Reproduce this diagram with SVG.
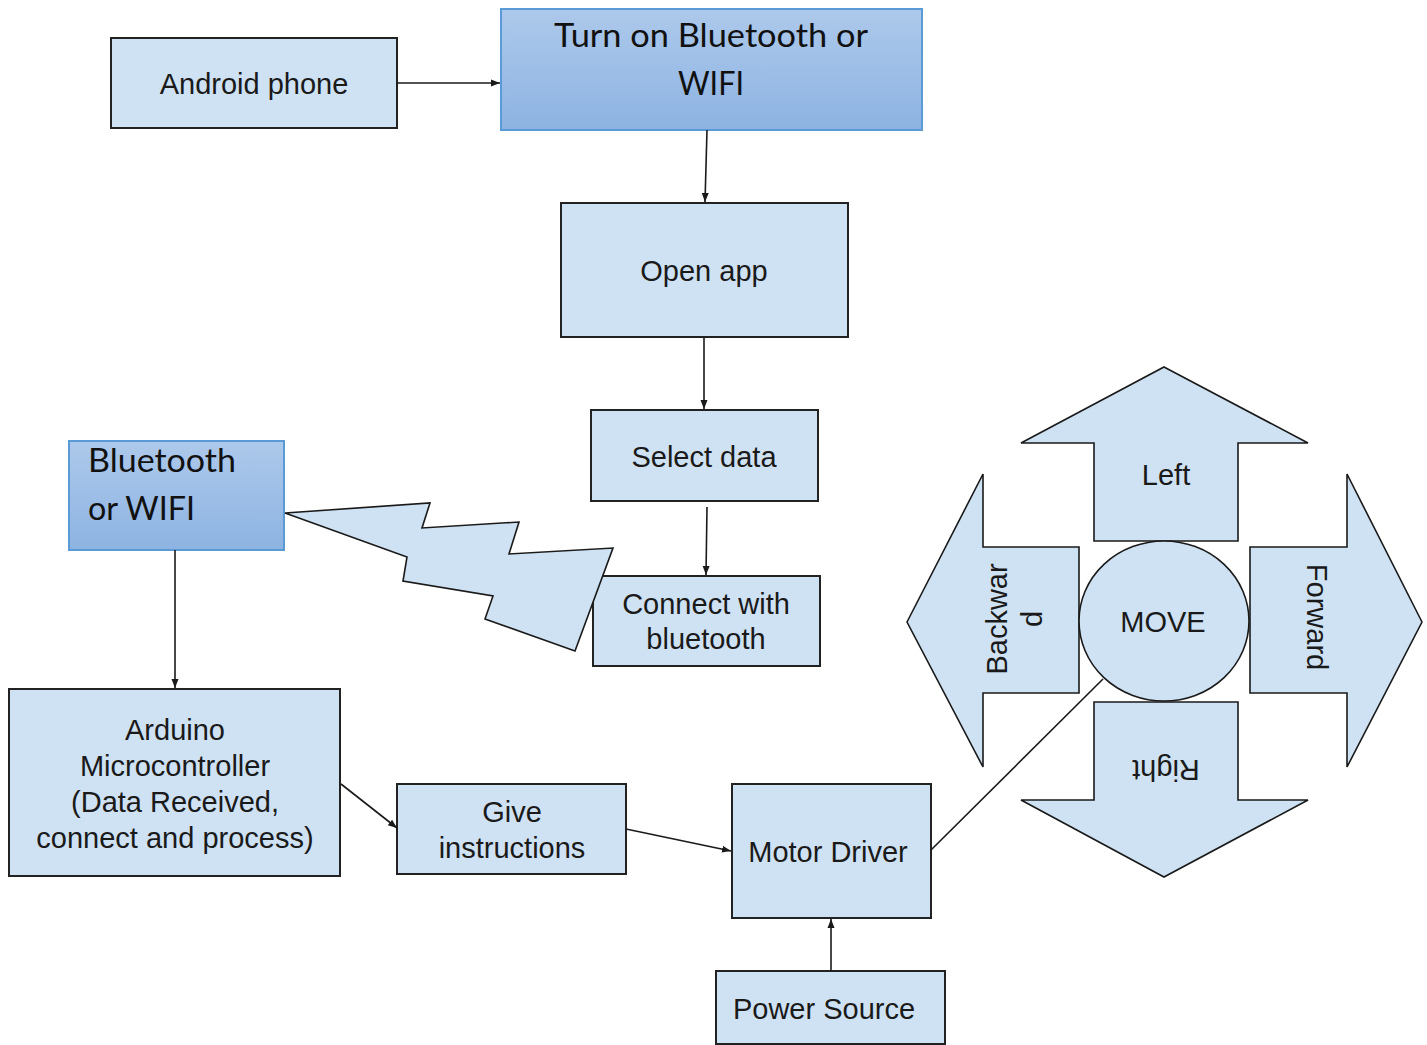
<svg xmlns="http://www.w3.org/2000/svg" width="1427" height="1045" viewBox="0 0 1427 1045">
<defs>
<linearGradient id="blueGrad" x1="0" y1="0" x2="0" y2="1">
<stop offset="0" stop-color="#adc9eb"/>
<stop offset="1" stop-color="#8db3e2"/>
</linearGradient>
<marker id="ah" markerUnits="userSpaceOnUse" markerWidth="10" markerHeight="8" refX="9" refY="4" orient="auto">
<path d="M0,0.5 L9,4 L0,7.5 z" fill="#1a1a1a"/>
</marker>
<style>
.box{fill:#cfe2f3;stroke:#222;stroke-width:2}
.gbox{fill:url(#blueGrad);stroke:#5b9bd5;stroke-width:2}
.shape{fill:#cfe2f3;stroke:#1a1a1a;stroke-width:1.6;stroke-linejoin:miter}
.t{font-family:"Liberation Sans",Arial,sans-serif;font-size:29px;fill:#1a1a1a;text-anchor:middle}
.c{font-family:Lato,"Open Sans",sans-serif;font-size:33px;fill:#111}
.conn{stroke:#1a1a1a;stroke-width:1.6;fill:none}
</style>
</defs>
<rect width="1427" height="1045" fill="#ffffff"/>

<g id="android">
<rect class="box" x="111" y="38" width="286" height="90"/>
<text class="t" x="254" y="94">Android phone</text>
</g>

<g id="turnon">
<rect class="gbox" x="501" y="9" width="421" height="121"/>
<text class="c" x="711" y="47" text-anchor="middle" textLength="314" lengthAdjust="spacingAndGlyphs">Turn on Bluetooth or</text>
<text class="c" x="711" y="95" text-anchor="middle" textLength="66" lengthAdjust="spacingAndGlyphs">WIFI</text>
</g>

<g id="openapp">
<rect class="box" x="561" y="203" width="287" height="134"/>
<text class="t" x="704" y="281">Open app</text>
</g>

<g id="selectdata">
<rect class="box" x="591" y="410" width="227" height="91"/>
<text class="t" x="704" y="467">Select data</text>
</g>

<g id="connect">
<rect class="box" x="593" y="576" width="227" height="90"/>
<text class="t" x="706" y="614">Connect with</text>
<text class="t" x="706" y="649">bluetooth</text>
</g>

<g id="btwifi">
<rect class="gbox" x="69" y="441" width="215" height="109"/>
<text class="c" x="88" y="472" textLength="148" lengthAdjust="spacingAndGlyphs">Bluetooth</text>
<text class="c" x="88" y="520" textLength="107" lengthAdjust="spacingAndGlyphs">or WIFI</text>
</g>

<g id="lightning">
<polygon class="shape" points="285,513 430,503 422,528 519,522 509,554 613,548 575,651 485,619 493,596 403,581 407,557"/>
</g>

<g id="arduino">
<rect class="box" x="9" y="689" width="331" height="187"/>
<text class="t" x="175" y="740">Arduino</text>
<text class="t" x="175" y="776">Microcontroller</text>
<text class="t" x="175" y="812">(Data Received,</text>
<text class="t" x="175" y="848">connect and process)</text>
</g>

<g id="give">
<rect class="box" x="397" y="784" width="229" height="90"/>
<text class="t" x="512" y="822">Give</text>
<text class="t" x="512" y="858">instructions</text>
</g>

<g id="motor">
<rect class="box" x="732" y="784" width="199" height="134"/>
<text class="t" x="828" y="862">Motor Driver</text>
</g>

<g id="power">
<rect class="box" x="716" y="971" width="229" height="73"/>
<text class="t" x="824" y="1019">Power Source</text>
</g>

<g id="left">
<polygon class="shape" points="1164,367 1308,443 1238,443 1238,541 1094,541 1094,443 1021,443"/>
<text class="t" x="1166" y="485">Left</text>
</g>

<g id="right">
<polygon class="shape" points="1094,702 1238,702 1238,800 1308,800 1164,877 1021,800 1094,800"/>
<text class="t" transform="translate(1166,770) rotate(180)" x="0" y="10">Right</text>
</g>

<g id="backward">
<polygon class="shape" points="907,622 983,474 983,547 1079,547 1079,693 983,693 983,767"/>
<g transform="translate(1014,619) rotate(-90)">
<text class="t" x="0" y="-7">Backwar</text>
<text class="t" x="0" y="28">d</text>
</g>
</g>

<g id="forward">
<polygon class="shape" points="1422,622 1347,474 1347,547 1250,547 1250,693 1347,693 1347,767"/>
<text class="t" transform="translate(1317,617) rotate(90)" x="0" y="10">Forward</text>
</g>

<g id="move">
<ellipse class="shape" cx="1164" cy="621" rx="85" ry="80"/>
<text class="t" x="1163" y="632">MOVE</text>
</g>

<g id="connectors">
<line class="conn" x1="397" y1="83" x2="500" y2="83" marker-end="url(#ah)"/>
<line class="conn" x1="707" y1="130" x2="705" y2="202" marker-end="url(#ah)"/>
<line class="conn" x1="704" y1="337" x2="704" y2="409" marker-end="url(#ah)"/>
<line class="conn" x1="707" y1="507" x2="706" y2="575" marker-end="url(#ah)"/>
<line class="conn" x1="175" y1="550" x2="175" y2="688" marker-end="url(#ah)"/>
<line class="conn" x1="341" y1="784" x2="397" y2="828" marker-end="url(#ah)"/>
<line class="conn" x1="626" y1="829" x2="731" y2="851" marker-end="url(#ah)"/>
<line class="conn" x1="831" y1="971" x2="831" y2="919" marker-end="url(#ah)"/>
<line class="conn" x1="931" y1="850" x2="1103" y2="679"/>
</g>
</svg>
